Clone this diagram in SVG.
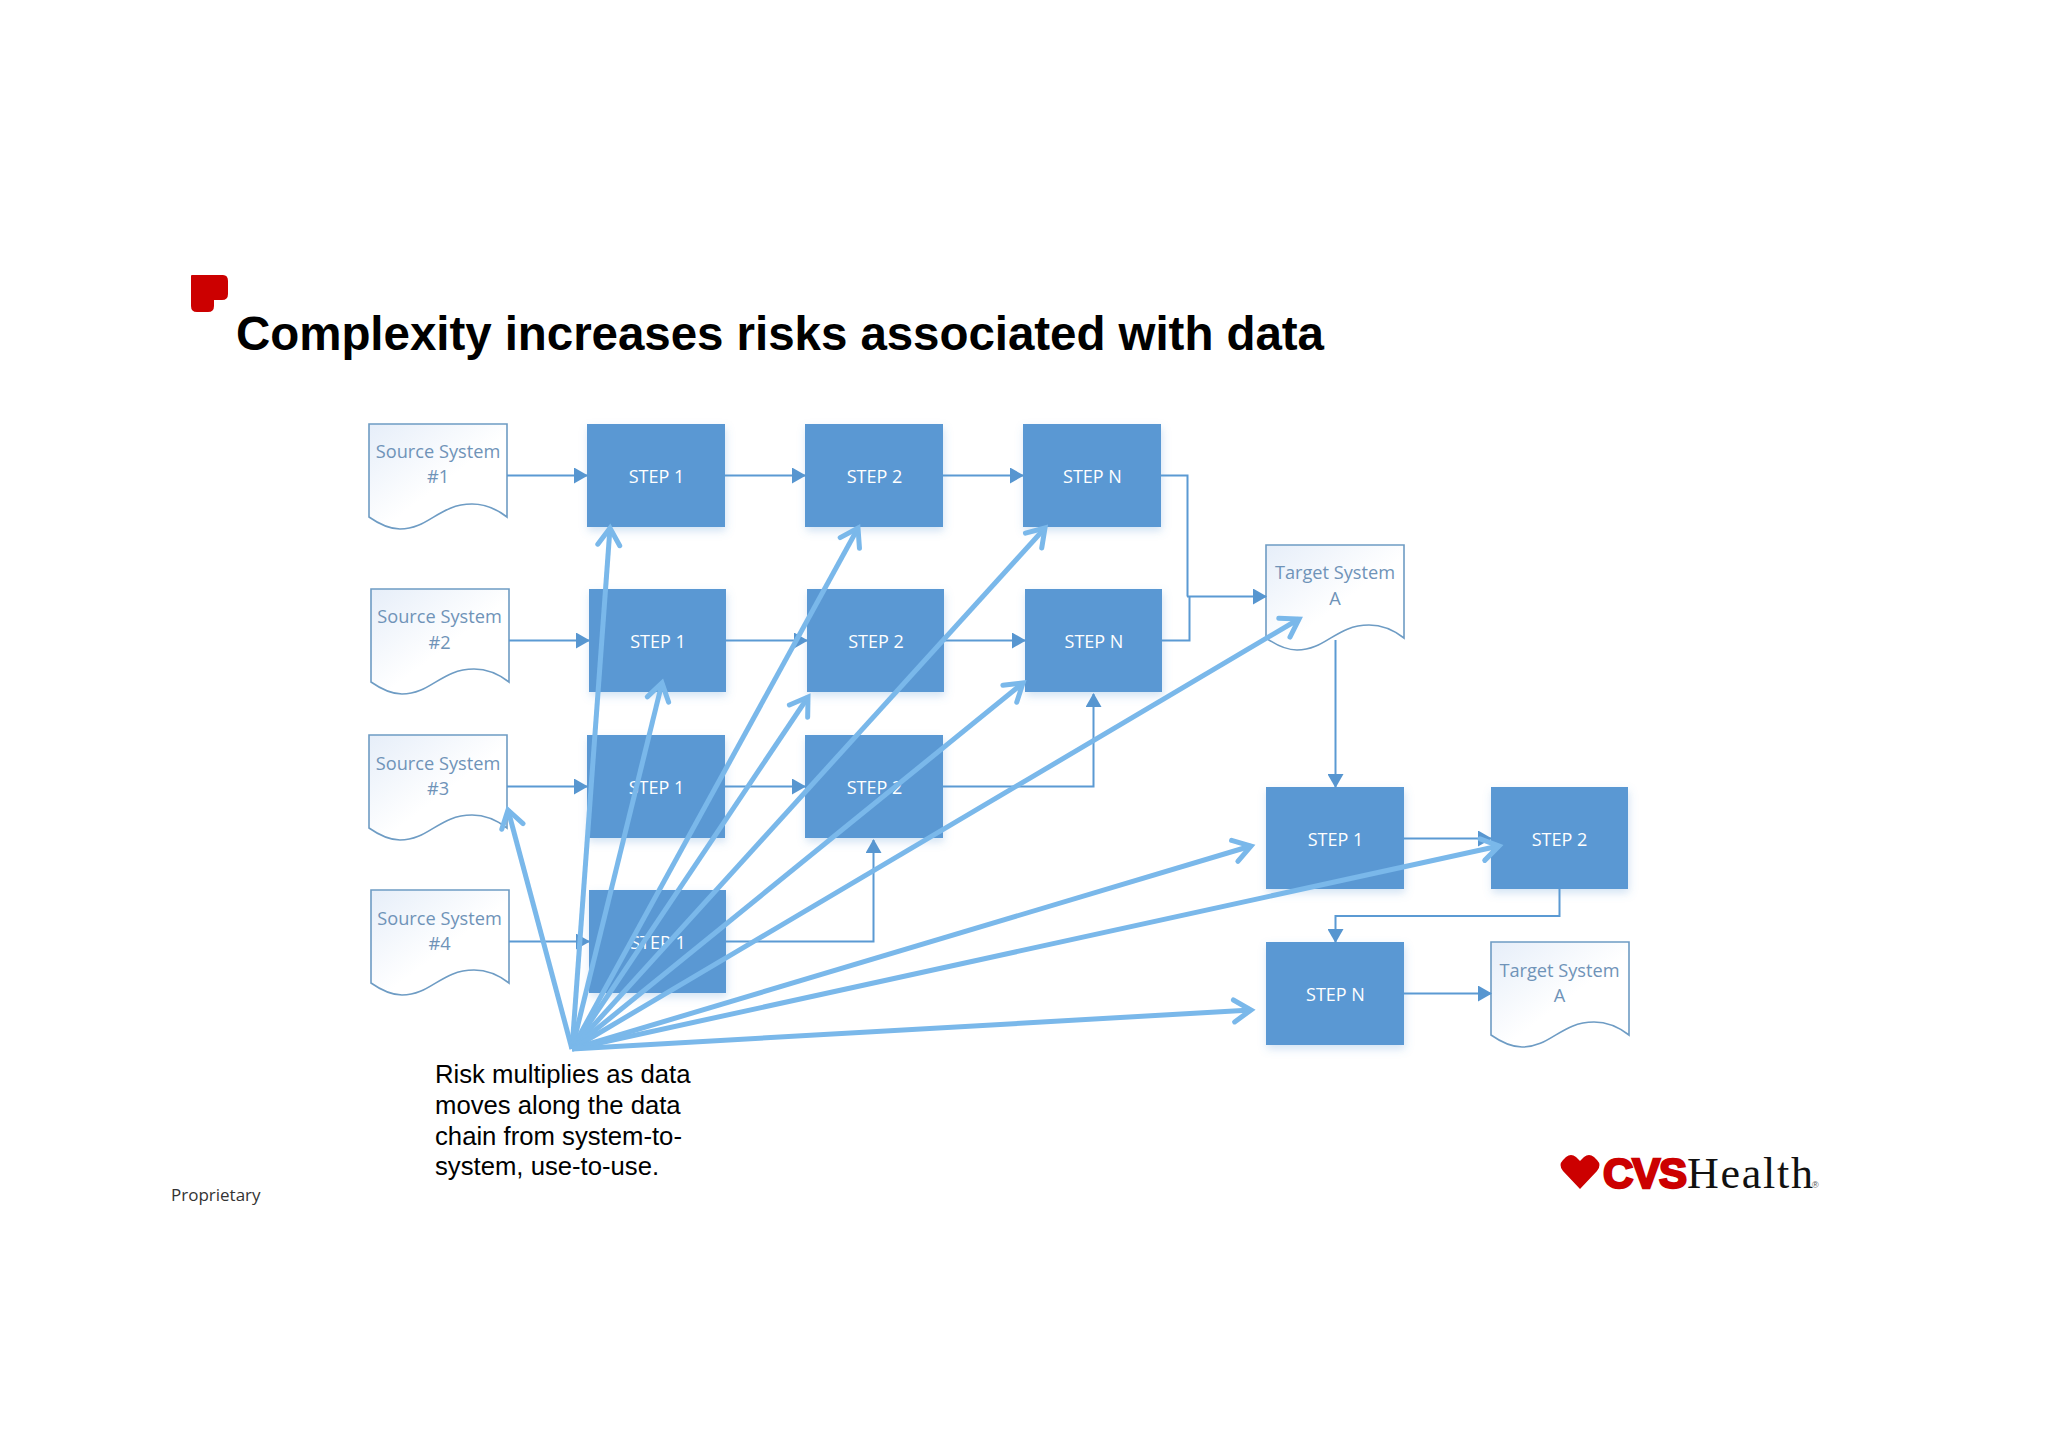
<svg xmlns="http://www.w3.org/2000/svg" width="2048" height="1448" viewBox="0 0 2048 1448">
<defs>
<linearGradient id="docFill" x1="0" y1="0" x2="1" y2="1"><stop offset="0" stop-color="#e6eef9"/><stop offset="0.55" stop-color="#ffffff"/></linearGradient>
<filter id="shadow" x="-10%" y="-10%" width="120%" height="125%"><feDropShadow dx="1" dy="4" stdDeviation="4" flood-color="#5b9bd5" flood-opacity="0.28"/></filter>
<marker id="flow" markerUnits="userSpaceOnUse" markerWidth="14" markerHeight="16" refX="13" refY="8" orient="auto"><path d="M0 0L14 8L0 16Z" fill="#5796d0"/></marker>
<marker id="risk" markerUnits="userSpaceOnUse" markerWidth="28" markerHeight="28" refX="23" refY="14" orient="auto"><path d="M6 3L23 14L6 25" fill="none" stroke="#7ab8ea" stroke-width="5" stroke-linecap="round"/></marker>
<path id="doc" d="M0 0H138V93C129 86 118 80 103 80C70 80 60 105 31 105C20 105 10 100 0 93Z"/>
</defs>
<style>
.box{fill:#5a98d3;filter:url(#shadow)}
.docshape{fill:url(#docFill);stroke:#6e9cc4;stroke-width:1.6}
.steplabel{font:18px "Open Sans","Noto Sans",sans-serif;fill:#fff;text-anchor:middle}
.doclabel{font:18.2px "Open Sans","Noto Sans",sans-serif;fill:#6f93b8;text-anchor:middle}
.flow{fill:none;stroke:#5b9ad3;stroke-width:2;marker-end:url(#flow)}
.flowplain{fill:none;stroke:#5b9ad3;stroke-width:2}
.riskline{fill:none;stroke:#7ab8ea;stroke-width:5;marker-end:url(#risk)}
.note{font:25.7px "Liberation Sans",Arial,sans-serif;fill:#000}
</style>
<rect width="2048" height="1448" fill="#fff"/>
<g id="brand-mark"><path d="M192 275H223Q228 275 228 281V294Q228 300 222 300H214V306Q214 312 208 312H197Q191 312 191 306V276Q191 275 192 275Z" fill="#cc0000"/></g>
<text id="title" x="236" y="350" font-family="'Liberation Sans',Arial,sans-serif" font-weight="700" font-size="47.5" fill="#000" textLength="1088">Complexity increases risks associated with data</text>

<g id="source-1"><use href="#doc" x="369" y="424" class="docshape"/><text class="doclabel" x="438" y="458">Source System</text><text class="doclabel" x="438" y="483">#1</text></g>
<g id="source-2"><use href="#doc" x="371" y="589" class="docshape"/><text class="doclabel" x="439.5" y="622.5">Source System</text><text class="doclabel" x="439.5" y="648.5">#2</text></g>
<g id="source-3"><use href="#doc" x="369" y="735" class="docshape"/><text class="doclabel" x="438" y="769.5">Source System</text><text class="doclabel" x="438" y="794.5">#3</text></g>
<g id="source-4"><use href="#doc" x="371" y="890" class="docshape"/><text class="doclabel" x="439.5" y="924.5">Source System</text><text class="doclabel" x="439.5" y="949.5">#4</text></g>

<g id="r1-step1"><rect class="box" x="587" y="424" width="138" height="103"/><text class="steplabel" x="656.5" y="482.5">STEP 1</text></g>
<g id="r1-step2"><rect class="box" x="805" y="424" width="138" height="103"/><text class="steplabel" x="874.5" y="482.5">STEP 2</text></g>
<g id="r1-stepN"><rect class="box" x="1023" y="424" width="138" height="103"/><text class="steplabel" x="1092.5" y="482.5">STEP N</text></g>
<g id="r2-step1"><rect class="box" x="589" y="589" width="137" height="103"/><text class="steplabel" x="658" y="647.5">STEP 1</text></g>
<g id="r2-step2"><rect class="box" x="807" y="589" width="137" height="103"/><text class="steplabel" x="876" y="647.5">STEP 2</text></g>
<g id="r2-stepN"><rect class="box" x="1025" y="589" width="137" height="103"/><text class="steplabel" x="1094" y="647.5">STEP N</text></g>
<g id="r3-step1"><rect class="box" x="587" y="735" width="138" height="103"/><text class="steplabel" x="656.5" y="793.5">STEP 1</text></g>
<g id="r3-step2"><rect class="box" x="805" y="735" width="138" height="103"/><text class="steplabel" x="874.5" y="793.5">STEP 2</text></g>
<g id="r4-step1"><rect class="box" x="589" y="890" width="137" height="103"/><text class="steplabel" x="658" y="948.5">STEP 1</text></g>

<g id="target-a1"><use href="#doc" x="1266" y="545" class="docshape"/><text class="doclabel" x="1335" y="578.5">Target System</text><text class="doclabel" x="1335" y="604.5">A</text></g>
<g id="t-step1"><rect class="box" x="1266" y="787" width="138" height="102"/><text class="steplabel" x="1335.5" y="845.5">STEP 1</text></g>
<g id="t-step2"><rect class="box" x="1491" y="787" width="137" height="102"/><text class="steplabel" x="1559.5" y="845.5">STEP 2</text></g>
<g id="t-stepN"><rect class="box" x="1266" y="942" width="138" height="103"/><text class="steplabel" x="1335.5" y="1000.5">STEP N</text></g>
<g id="target-a2"><use href="#doc" x="1491" y="942" class="docshape"/><text class="doclabel" x="1559.5" y="976.5">Target System</text><text class="doclabel" x="1559.5" y="1001.5">A</text></g>

<g id="connectors">
<path class="flow" d="M507 475.5H587"/><path class="flow" d="M725 475.5H805"/><path class="flow" d="M943 475.5H1023"/>
<path class="flow" d="M509 640.5H589"/><path class="flow" d="M726 640.5H807"/><path class="flow" d="M944 640.5H1025"/>
<path class="flow" d="M507 786.5H587"/><path class="flow" d="M725 786.5H805"/>
<path class="flow" d="M509 941.5H589"/>
<path class="flow" d="M726 941.5H873.5V840"/>
<path class="flow" d="M943 786.5H1093.5V694"/>
<path class="flowplain" d="M1161 475.5H1187.5V596.5"/>
<path class="flowplain" d="M1162 640.5H1189.5V596.5"/>
<path class="flow" d="M1187 596.5H1266"/>
<path class="flow" d="M1335.5 640V787"/>
<path class="flow" d="M1404 838.5H1491"/>
<path class="flow" d="M1559.5 889V916H1335.5V942"/>
<path class="flow" d="M1404 993.5H1491"/>
</g>
<g id="risk-connectors">
<path class="riskline" d="M572 1049L508 810"/>
<path class="riskline" d="M572 1049L610 528"/>
<path class="riskline" d="M572 1049L662 683"/>
<path class="riskline" d="M572 1049L858 528"/>
<path class="riskline" d="M572 1049L808 697"/>
<path class="riskline" d="M572 1049L1045 528"/>
<path class="riskline" d="M572 1049L1023 683"/>
<path class="riskline" d="M572 1049L1299 619"/>
<path class="riskline" d="M572 1049L1251 846"/>
<path class="riskline" d="M572 1049L1499 846"/>
<path class="riskline" d="M572 1049L1251 1010"/>
</g>
<g id="risk-note">
<text class="note" x="435" y="1083">Risk multiplies as data</text>
<text class="note" x="435" y="1114">moves along the data</text>
<text class="note" x="435" y="1145">chain from system-to-</text>
<text class="note" x="435" y="1175">system, use-to-use.</text>
</g>
<text id="proprietary" x="171" y="1201" font-family="'Open Sans','Noto Sans',sans-serif" font-size="17" fill="#333">Proprietary</text>
<g id="logo">
<path d="M1580 1189L1563 1171Q1558 1165 1563 1160L1566 1157Q1571 1153 1576 1157L1580 1161L1584 1157Q1589 1153 1594 1157L1597 1160Q1602 1165 1597 1171Z" fill="#cc0000"/>
<text x="1603" y="1188" font-family="'Liberation Sans',Arial,sans-serif" font-weight="700" font-size="42" fill="#cc0000" stroke="#cc0000" stroke-width="2.4" textLength="84">CVS</text>
<text x="1687" y="1188" font-family="'Liberation Serif','Times New Roman',serif" font-size="44" fill="#111" textLength="126">Health</text>
<text x="1812" y="1188" font-family="'Liberation Sans',Arial,sans-serif" font-size="9" fill="#555">®</text>
</g>
</svg>
